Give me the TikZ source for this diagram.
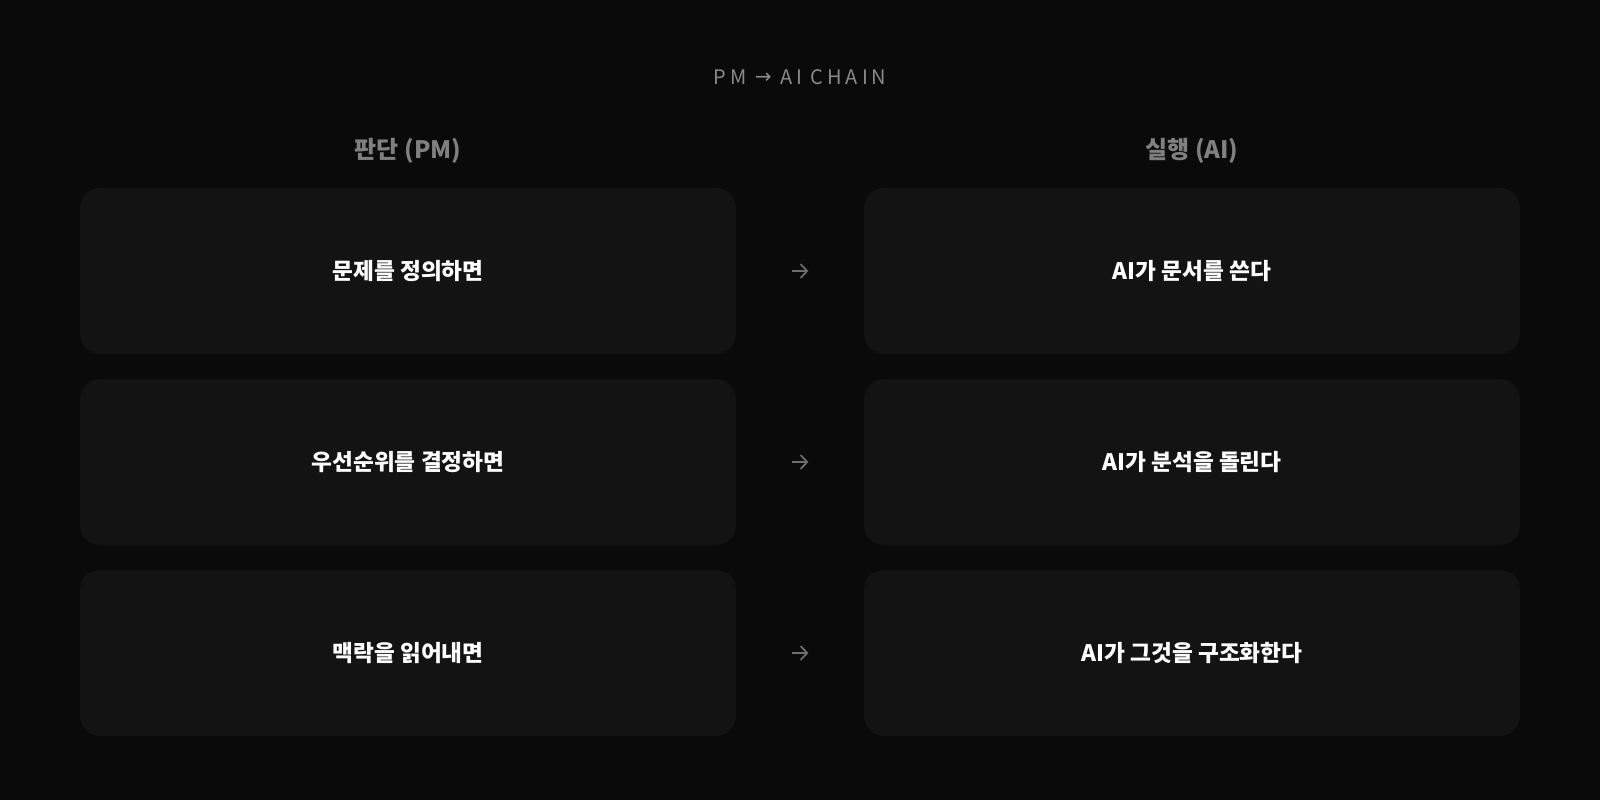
\documentclass[tikz,border=0pt]{standalone}
\usepackage{fontspec}
\setmainfont{Noto Sans CJK KR}
\newfontfamily\arrowfont{DejaVu Sans}
\usetikzlibrary{arrows.meta}
\definecolor{bgcol}{HTML}{0A0A0A}
\definecolor{boxcol}{HTML}{131313}
\definecolor{headcol}{HTML}{808080}
\definecolor{titlecol}{HTML}{8A8A8A}
\definecolor{arrcol}{HTML}{6E6E6E}
\tikzstyle{card}=[fill=boxcol, rounded corners=15pt, minimum width=492pt, minimum height=124.5pt, inner sep=0pt]
\tikzstyle{pmcard}=[card, text=white, font=\bfseries\fontsize{17pt}{20pt}\selectfont]
\tikzstyle{aicard}=[pmcard]
\tikzstyle{colhead}=[text=headcol, font=\bfseries\fontsize{18pt}{21pt}\selectfont]
\tikzstyle{chain}=[draw=arrcol, line width=1.3pt, -{Straight Barb[length=5pt, width=10.5pt, line width=1.3pt]}, shorten <=42pt, shorten >=41.5pt]

\begin{document}
\begin{tikzpicture}[x=0.75pt, y=-0.75pt]
        \fill[bgcol] (0,0) rectangle (1600,800);
        \useasboundingbox (0,0) rectangle (1600,800);
        \node[text=titlecol, font=\fontsize{15pt}{17pt}\selectfont\addfontfeature{LetterSpace=20}] (title) at (800, 77) {PM \raisebox{0.6pt}{\arrowfont\fontsize{15pt}{17pt}\selectfont →} AI CHAIN};
        \node[colhead] (pmhead) at (408, 151) {판단 (PM)};
        \node[colhead] (aihead) at (1192, 151) {실행 (AI)};
        \node[pmcard] (P1) at (408, 271) {문제를 정의하면};
        \node[pmcard] (P2) at (408, 462) {우선순위를 결정하면};
        \node[pmcard] (P3) at (408, 653) {맥락을 읽어내면};
        \node[aicard] (A1) at (1192, 271) {AI가 문서를 쓴다};
        \node[aicard] (A2) at (1192, 462) {AI가 분석을 돌린다};
        \node[aicard] (A3) at (1192, 653) {AI가 그것을 구조화한다};
        \draw[chain] (P1) -- (A1);
        \draw[chain] (P2) -- (A2);
        \draw[chain] (P3) -- (A3);
    \end{tikzpicture}
\end{document}
